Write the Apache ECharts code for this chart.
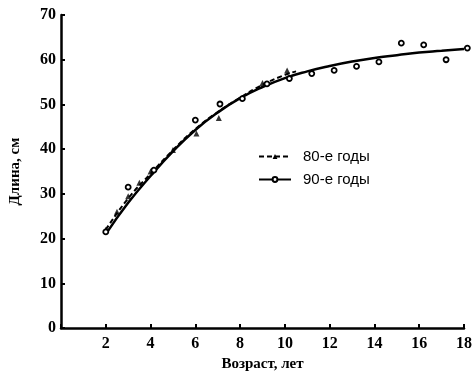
<!DOCTYPE html>
<html>
<head>
<meta charset="utf-8">
<script src="https://cdn.jsdelivr.net/npm/echarts@6/dist/echarts.min.js"></script>
<style>html,body{margin:0;padding:0;background:#fff}#c{width:476px;height:377px}</style>
</head>
<body>
<div id="c"></div>
<script>
var seriesNames = ['80-е годы', '90-е годы'];
var xTicks = [0, 2, 4, 6, 8, 10, 12, 14, 16, 18];
var yTicks = [0, 10, 20, 30, 40, 50, 60, 70];
// fitted curves
var curve80 = [[2,22],[3,29],[4,34.5],[5,39.8],[6,44.5],[7,48.3],[8,51.5],[9,54.4],[10,56.6],[10.5,57.4]];
var curve90 = [[2,21],[3,28],[4,34],[5,39.5],[6,44.3],[7,48.2],[8,51.4],[9,53.9],[10,55.9],[11,57.4],[12,58.6],[13,59.6],[14,60.4],[15,61],[16,61.6],[17,62],[18,62.4]];
// observed points
var points80 = [[2,22],[2.5,26],[3,29.5],[3.5,32.5],[4,35],[5,39.8],[6.05,43.5],[7.05,47],[9,54.8],[10.1,57.6]];
var points90 = [[2,21.5],[3,31.5],[4.15,35.3],[6,46.5],[7.1,50.1],[8.1,51.3],[9.2,54.6],[10.2,55.8],[11.2,56.9],[12.2,57.6],[13.2,58.5],[14.2,59.5],[15.2,63.7],[16.2,63.3],[17.2,60],[18.15,62.6]];

var chart = echarts.init(document.getElementById('c'));
var serif = '"Liberation Serif", "DejaVu Serif", serif';
chart.setOption({
  animation: false,
  backgroundColor: '#fff',
  grid: {left: 59, right: 12, top: 15, bottom: 47},
  legend: {
    orient: 'vertical', left: 253, top: 144,
    itemWidth: 32, itemHeight: 6, itemGap: 8,
    data: seriesNames,
    textStyle: {color: '#000', fontFamily: '"Liberation Sans", Arial, sans-serif', fontSize: 15, padding: [0,0,0,7]}
  },
  xAxis: {
    type: 'value', min: 0, max: 18, interval: 2,
    name: 'Возраст, лет', nameLocation: 'middle', nameGap: 28,
    nameTextStyle: {color: '#000', fontFamily: serif, fontWeight: 'bold', fontSize: 15},
    axisLine: {lineStyle: {color: '#000', width: 2.5}},
    axisTick: {inside: true, length: 4, lineStyle: {color: '#000', width: 2}},
    splitLine: {show: false},
    axisLabel: {color: '#000', fontFamily: serif, fontWeight: 'bold', fontSize: 16, margin: 8,
      formatter: function (v) { return v === xTicks[0] ? '' : String(v); }}
  },
  yAxis: {
    type: 'value', min: 0, max: 70, interval: 10,
    name: 'Длина, см', nameLocation: 'middle', nameGap: 38,
    nameTextStyle: {color: '#000', fontFamily: serif, fontWeight: 'bold', fontSize: 15},
    axisLine: {show: true, lineStyle: {color: '#000', width: 2.5}},
    axisTick: {show: true, inside: true, length: 4, lineStyle: {color: '#000', width: 2}},
    splitLine: {show: false},
    axisLabel: {color: '#000', fontFamily: serif, fontWeight: 'bold', fontSize: 16, margin: 5}
  },
  series: [
    {name: seriesNames[0], type: 'line', data: curve80, smooth: true, showSymbol: false,
     symbol: 'triangle', symbolSize: 6, itemStyle: {color: '#000'},
     lineStyle: {color: '#000', width: 2, type: [5, 3]}, z: 3},
    {name: seriesNames[1], type: 'line', data: curve90, smooth: true, showSymbol: false,
     symbol: 'circle', symbolSize: 5, itemStyle: {color: '#fff', borderColor: '#000', borderWidth: 1.5},
     lineStyle: {color: '#000', width: 2.5}, z: 4},
    {name: 'p80', type: 'scatter', data: points80, symbol: 'triangle', symbolSize: 6, clip: false,
     itemStyle: {color: '#000'}, z: 5},
    {name: 'p90', type: 'scatter', data: points90, symbol: 'circle', symbolSize: 5, clip: false,
     itemStyle: {color: '#fff', borderColor: '#000', borderWidth: 1.8, opacity: 1}, z: 6}
  ]
});
</script>
</body>
</html>
